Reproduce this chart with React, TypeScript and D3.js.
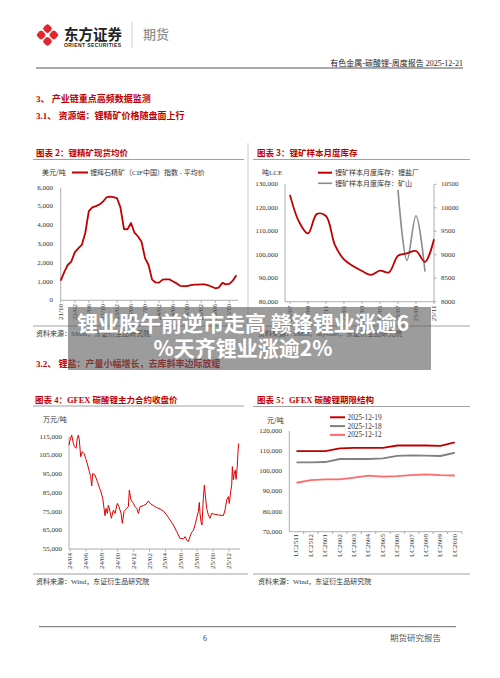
import React from 'react';
import * as d3 from 'd3';

// ---------- DATA ----------
const spodLabels = ['21/10','22/02','22/06','22/10','23/02','23/06','23/10','24/02','24/06','24/10','25/02','25/06','25/10'];
// monthly, 21/10 .. 25/12 (USD/t)
const spodPrice = [1050,1500,1880,2060,2550,2770,2950,3600,4750,4950,5020,5100,5250,5480,5520,5500,5450,4950,3800,3780,4120,3600,3400,3120,2250,1880,1100,950,940,1100,1120,1110,1000,900,770,760,760,810,830,840,850,850,800,720,640,680,930,850,870,1050,1330];
const spodTicks = [0,1000,2000,3000,4000,5000,6000];

const invMonths = ['24/07','24/08','24/09','24/10','24/11','24/12','25/01','25/02','25/03','25/04','25/05','25/06','25/07','25/08','25/09','25/10','25/11'];
const invSmelter = [125500,114100,109100,117400,116500,104100,98000,95200,93100,91400,93200,92500,99600,100600,101600,97000,106600];
const invMineMonths = ['25/07','25/08','25/09','25/10'];
const invMine = [10380,8880,9830,8640];
const invLeftTicks = [80000,90000,100000,110000,120000,130000];
const invRightTicks = [8000,8500,9000,9500,10000,10500];

const gfexLabels = ['24/04','24/06','24/08','24/10','24/12','25/02','25/04','25/06','25/08','25/10','25/12'];
// months since 2024-04
const gfexT = [-0.13,0,0.21,0.42,0.55,0.76,0.92,1.05,1.17,1.34,1.55,1.76,1.97,2.22,2.43,2.6,2.73,2.85,3.14,3.44,3.65,3.86,4.11,4.28,4.4,4.53,4.7,4.82,5.03,5.2,5.45,5.66,5.95,6.16,6.42,6.58,6.79,7.13,7.34,7.46,7.67,7.97,8.18,8.39,8.6,8.81,9.22,9.56,9.85,10.06,10.48,10.9,11.32,11.74,12.16,12.58,13.0,13.42,13.63,13.84,14.26,14.47,14.68,14.88,15.09,15.3,15.51,15.72,15.93,16.14,16.27,16.35,16.48,16.6,16.77,16.9,17.02,17.19,17.4,17.61,17.82,18.24,18.66,19.29,19.5,19.71,19.92,20.04,20.21,20.34,20.42,20.55,20.67,20.8,20.88,20.96,21.05,21.13,21.22];
const gfexV = [110500,113200,115900,111400,109700,108800,114100,115900,113200,104300,107000,106100,103400,99900,96300,93600,88700,95400,94500,91000,88300,86000,82100,76700,72800,76700,74000,78500,75000,71400,75800,74000,79400,77600,74000,68700,75000,76700,77600,86500,81200,79400,77600,76700,74000,77600,78200,78900,80700,79400,78200,77100,76400,75300,73200,70500,67800,64300,62500,60700,60400,61600,59800,58900,61600,63900,64800,67800,71400,75000,79900,74000,69600,67800,82100,89200,83800,76700,73200,71400,74000,73500,73200,72800,75800,81200,83000,79400,85600,89200,99000,91900,95400,97200,92200,94900,99900,107000,111400];
const gfexTicks = [55000,65000,75000,85000,95000,105000,115000];

const contracts = ['LC2511','LC2512','LC2601','LC2602','LC2603','LC2604','LC2605','LC2606','LC2607','LC2608','LC2609','LC2610'];
const curveDates = ['2025-12-19','2025-12-18','2025-12-12'];
const curve1219 = [110000,110000,110000,111400,111600,111600,111600,112800,112800,112800,112600,114400];
const curve1218 = [104400,104400,104600,106100,106200,106100,106400,107600,107900,107800,107600,109200];
const curve1212 = [94300,95600,96000,96000,96800,97800,97300,97600,98100,98500,98100,97900];
const curveTicks = [70000,80000,90000,100000,110000,120000];

// ---------- STYLE ----------
const serif = "'Liberation Serif','Noto Sans CJK SC',serif";
const cjk = "'Noto Sans CJK SC',sans-serif";
const RED = '#C00000';
const AX = '#9a9a9a';
const TXT = '#333';
const fmt = d3.format(',');

function XLabel({ x, y, t }: { x: number; y: number; t: string }) {
  return (
    <text transform={`translate(${x},${y}) rotate(-90)`} textAnchor="end" dominantBaseline="central"
      fontFamily={serif} fontSize={7} fill={TXT}>{t}</text>
  );
}

function Chart2() {
  const x = d3.scaleLinear().domain([0, 50]).range([60.7, 236.4]);
  const y = d3.scaleLinear().domain([0, 6000]).range([300.3, 187.7]);
  const line = d3.line<number>().x((_, i) => x(i)).y(d => y(d));
  return (
    <g>
      <text x={36} y={156} fontFamily={cjk} fontSize={8.5} fontWeight={700} fill={RED}>图表 2：锂精矿现货均价</text>
      <line x1={33} x2={244} y1={159.5} y2={159.5} stroke="#888" strokeWidth={0.8} />
      <text x={42} y={175} fontFamily={cjk} fontSize={7} fill={TXT}>美元/吨</text>
      <line x1={72} x2={88} y1={172.5} y2={172.5} stroke={RED} strokeWidth={2} />
      <text x={90} y={175} fontFamily={serif} fontSize={7} fill={TXT}>锂辉石精矿（CIF中国）指数 - 平均价</text>
      <line x1={x(0)} x2={x(0)} y1={y(6000)} y2={y(0)} stroke={AX} strokeWidth={0.8} />
      <line x1={x(0)} x2={238} y1={y(0)} y2={y(0)} stroke={AX} strokeWidth={0.8} />
      {spodTicks.map(t => (
        <text key={t} x={53} y={y(t)} textAnchor="end" dominantBaseline="central" fontFamily={serif} fontSize={7} fill={TXT}>{fmt(t)}</text>
      ))}
      {spodLabels.map((l, i) => (
        <g key={l}>
          <line x1={x(i * 4)} x2={x(i * 4)} y1={y(0)} y2={y(0) + 2.5} stroke={AX} strokeWidth={0.8} />
          <XLabel x={x(i * 4)} y={304} t={l} />
        </g>
      ))}
      <path d={line(spodPrice) || ''} fill="none" stroke={RED} strokeWidth={1.8} strokeLinejoin="round" />
      <line x1={33} x2={245} y1={326} y2={326} stroke="#888" strokeWidth={0.8} />
      <text x={36} y={335.5} fontFamily={serif} fontSize={7} fill={TXT}>资料来源：SMM，东证衍生品研究院</text>
    </g>
  );
}

function Chart3() {
  const x = d3.scaleLinear().domain([-0.55, 16]).range([285, 434]);
  const yL = d3.scaleLinear().domain([80000, 130000]).range([301.7, 184.3]);
  const yR = d3.scaleLinear().domain([8000, 10500]).range([301.7, 184.3]);
  const lineL = d3.line<number>().x((_, i) => x(i)).y(d => yL(d)).curve(d3.curveCatmullRom);
  const mineIdx = invMineMonths.map(m => invMonths.indexOf(m));
  const lineR = d3.line<number>().x((_, i) => x(mineIdx[i])).y(d => yR(d)).curve(d3.curveCatmullRom);
  return (
    <g>
      <text x={257} y={156} fontFamily={cjk} fontSize={8.5} fontWeight={700} fill={RED}>图表 3：锂矿样本月度库存</text>
      <line x1={253} x2={470} y1={159.5} y2={159.5} stroke="#888" strokeWidth={0.8} />
      <text x={262} y={175} fontFamily={serif} fontSize={7} fill={TXT}>吨LCE</text>
      <line x1={318} x2={332} y1={172.7} y2={172.7} stroke={RED} strokeWidth={2} />
      <text x={335} y={175.2} fontFamily={serif} fontSize={7} fill={TXT}>锂矿样本月度库存：锂盐厂</text>
      <line x1={318} x2={332} y1={183.3} y2={183.3} stroke="#8c8c8c" strokeWidth={1.6} />
      <text x={335} y={185.8} fontFamily={serif} fontSize={7} fill={TXT}>锂矿样本月度库存：矿山</text>
      <line x1={285} x2={285} y1={184.3} y2={301.7} stroke={AX} strokeWidth={0.8} />
      <line x1={434} x2={434} y1={184.3} y2={301.7} stroke={AX} strokeWidth={0.8} />
      <line x1={285} x2={434} y1={301.7} y2={301.7} stroke={AX} strokeWidth={0.8} />
      {invLeftTicks.map(t => (
        <text key={t} x={278} y={yL(t)} textAnchor="end" dominantBaseline="central" fontFamily={serif} fontSize={7} fill={TXT}>{fmt(t)}</text>
      ))}
      {invRightTicks.map(t => (
        <g key={t}>
          <line x1={434} x2={436.5} y1={yR(t)} y2={yR(t)} stroke={AX} strokeWidth={0.8} />
          <text x={441} y={yR(t)} dominantBaseline="central" fontFamily={serif} fontSize={7} fill={TXT}>{t}</text>
        </g>
      ))}
      {invMonths.map((m, i) => i % 2 === 0 ? (
        <g key={m}>
          <line x1={x(i)} x2={x(i)} y1={301.7} y2={304} stroke={AX} strokeWidth={0.8} />
          <XLabel x={x(i)} y={305.5} t={m} />
        </g>
      ) : null)}
      <path d={lineR(invMine) || ''} fill="none" stroke="#8c8c8c" strokeWidth={1.6} />
      <path d={lineL(invSmelter) || ''} fill="none" stroke={RED} strokeWidth={1.8} />
      <line x1={253} x2={470} y1={326} y2={326} stroke="#888" strokeWidth={0.8} />
      <text x={258} y={335.5} fontFamily={serif} fontSize={7} fill={TXT}>资料来源：SMM，Mysteel，东证衍生品研究院</text>
    </g>
  );
}

function Chart4() {
  const x = d3.scaleLinear().domain([-0.13, 21.22]).range([69, 238.7]);
  const y = d3.scaleLinear().domain([55000, 115000]).range([549, 436.7]);
  const pts = gfexT.map((t, i) => [t, gfexV[i]] as [number, number]);
  const line = d3.line<[number, number]>().x(d => x(d[0])).y(d => y(d[1]));
  return (
    <g>
      <text x={35} y={403} fontFamily={serif} fontSize={8.5} fontWeight={700} fill={RED}>图表 4：GFEX 碳酸锂主力合约收盘价</text>
      <line x1={33} x2={244} y1={406} y2={406} stroke="#888" strokeWidth={0.8} />
      <text x={43} y={421.5} fontFamily={cjk} fontSize={7} fill={TXT}>万元/吨</text>
      <line x1={69} x2={69} y1={436.7} y2={549} stroke={AX} strokeWidth={0.8} />
      <line x1={69} x2={240} y1={549} y2={549} stroke={AX} strokeWidth={0.8} />
      {gfexTicks.map(t => (
        <text key={t} x={62} y={y(t)} textAnchor="end" dominantBaseline="central" fontFamily={serif} fontSize={7} fill={TXT}>{fmt(t)}</text>
      ))}
      {gfexLabels.map((l, i) => (
        <g key={l}>
          <line x1={x(i * 2)} x2={x(i * 2)} y1={549} y2={551.5} stroke={AX} strokeWidth={0.8} />
          <XLabel x={x(i * 2)} y={553} t={l} />
        </g>
      ))}
      <path d={line(pts) || ''} fill="none" stroke="#E00000" strokeWidth={1} strokeLinejoin="round" />
      <line x1={33} x2={248} y1={574} y2={574} stroke="#888" strokeWidth={0.8} />
      <text x={36} y={584} fontFamily={serif} fontSize={7} fill={TXT}>资料来源：Wind，东证衍生品研究院</text>
    </g>
  );
}

function Chart5() {
  const x = d3.scaleBand<string>().domain(contracts).range([289.3, 462]);
  const y = d3.scaleLinear().domain([70000, 120000]).range([531.7, 431]);
  const line = d3.line<number>().x((_, i) => (x(contracts[i]) as number) + x.bandwidth() / 2).y(d => y(d));
  const series = [
    { name: curveDates[0], vals: curve1219, color: '#C00000' },
    { name: curveDates[1], vals: curve1218, color: '#808080' },
    { name: curveDates[2], vals: curve1212, color: '#FF6B6B' },
  ];
  return (
    <g>
      <text x={257} y={403} fontFamily={serif} fontSize={8.5} fontWeight={700} fill={RED}>图表 5：GFEX 碳酸锂期限结构</text>
      <line x1={253} x2={470} y1={406.5} y2={406.5} stroke="#888" strokeWidth={0.8} />
      <text x={267} y={422.5} fontFamily={cjk} fontSize={7} fill={TXT}>元/吨</text>
      {series.map((s, i) => (
        <g key={s.name}>
          <line x1={330} x2={345} y1={417.3 + i * 8.8} y2={417.3 + i * 8.8} stroke={s.color} strokeWidth={2} />
          <text x={347.5} y={417.3 + i * 8.8} dominantBaseline="central" fontFamily={serif} fontSize={7.3} fill={TXT}>{s.name}</text>
        </g>
      ))}
      <line x1={289.3} x2={289.3} y1={431} y2={531.7} stroke={AX} strokeWidth={0.8} />
      <line x1={289.3} x2={462} y1={531.7} y2={531.7} stroke={AX} strokeWidth={0.8} />
      {curveTicks.map(t => (
        <text key={t} x={282} y={y(t)} textAnchor="end" dominantBaseline="central" fontFamily={serif} fontSize={7} fill={TXT}>{fmt(t)}</text>
      ))}
      {contracts.map(c => (
        <g key={c}>
          <line x1={(x(c) as number) + x.bandwidth()} x2={(x(c) as number) + x.bandwidth()} y1={531.7} y2={534} stroke={AX} strokeWidth={0.8} />
          <XLabel x={(x(c) as number) + x.bandwidth() / 2} y={534} t={c} />
        </g>
      ))}
      {series.slice().reverse().map(s => (
        <path key={s.name} d={line(s.vals) || ''} fill="none" stroke={s.color} strokeWidth={1.8} />
      ))}
      <line x1={253} x2={470} y1={574} y2={574} stroke="#888" strokeWidth={0.8} />
      <text x={258} y={584} fontFamily={serif} fontSize={7} fill={TXT}>资料来源：Wind，东证衍生品研究院</text>
    </g>
  );
}

function Logo() {
  const a = 7.4, g = 1.6;
  const cells = [[0, 0], [1, 0], [0, 1], [1, 1]];
  return (
    <g>
      <g transform="translate(47.5,35) rotate(45)">
        {cells.map(([i, j]) => (
          <rect key={`${i}${j}`} x={-a - g / 2 + i * (a + g)} y={-a - g / 2 + j * (a + g)} width={a} height={a} rx={2.2} fill="#E1262D" />
        ))}
      </g>
      <text x={64} y={39.5} fontFamily={cjk} fontSize={14.5} fontWeight={700} fill="#222">东方证券</text>
      <text x={64} y={46.5} fontFamily="'Liberation Sans',sans-serif" fontSize={5} fontWeight={700} fill="#222" textLength={57}>ORIENT SECURITIES</text>
      <line x1={132} x2={132} y1={22} y2={48} stroke="#ccc" strokeWidth={1} />
      <text x={143} y={39} fontFamily={cjk} fontSize={13} fontWeight={500} fill="#8f8f8f">期货</text>
    </g>
  );
}

export default function App() {
  return (
    <svg width={500} height={678} style={{ position: 'absolute', left: 0, top: 0, background: '#fff' }}>
      <rect x={0} y={0} width={500} height={678} fill="#fff" />
      <Logo />
      <text x={463} y={66} textAnchor="end" fontFamily={serif} fontSize={8} fill="#222">有色金属-碳酸锂-周度报告 2025-12-21</text>
      <line x1={36} x2={463} y1={68} y2={68} stroke="#555" strokeWidth={1} />
      <text x={36} y={101.5} fontFamily={serif} fontSize={9} fontWeight={700} fill={RED}>3、 产业链重点高频数据监测</text>
      <text x={36} y={119} fontFamily={serif} fontSize={9} fontWeight={700} fill={RED}>3.1、 资源端：锂精矿价格随盘面上行</text>
      <line x1={248} x2={248} y1={143} y2={326} stroke="#bbb" strokeWidth={0.8} />
      <Chart2 />
      <Chart3 />
      <text x={36} y={366.5} fontFamily={serif} fontSize={9} fontWeight={700} fill={RED}>3.2、 锂盐：产量小幅增长，去库斜率边际放缓</text>
      <Chart4 />
      <Chart5 />
      <line x1={39} x2={456} y1={626.7} y2={626.7} stroke="#888" strokeWidth={1.2} />
      <text x={205} y={641} textAnchor="middle" fontFamily={serif} fontSize={8} fill="#444">6</text>
      <text x={390} y={641} fontFamily={cjk} fontSize={8.5} fill="#555">期货研究报告</text>
      <rect x={68} y={307} width={363} height={63} fill="#5a5a5a" opacity={0.6} />
      <text x={243} y={331} textAnchor="middle" fontFamily={cjk} fontSize={21} fontWeight={700} fill="#fff">锂业股午前逆市走高 赣锋锂业涨逾6</text>
      <text x={243} y={356} textAnchor="middle" fontFamily={cjk} fontSize={21} fontWeight={700} fill="#fff">%天齐锂业涨逾2%</text>
    </svg>
  );
}
